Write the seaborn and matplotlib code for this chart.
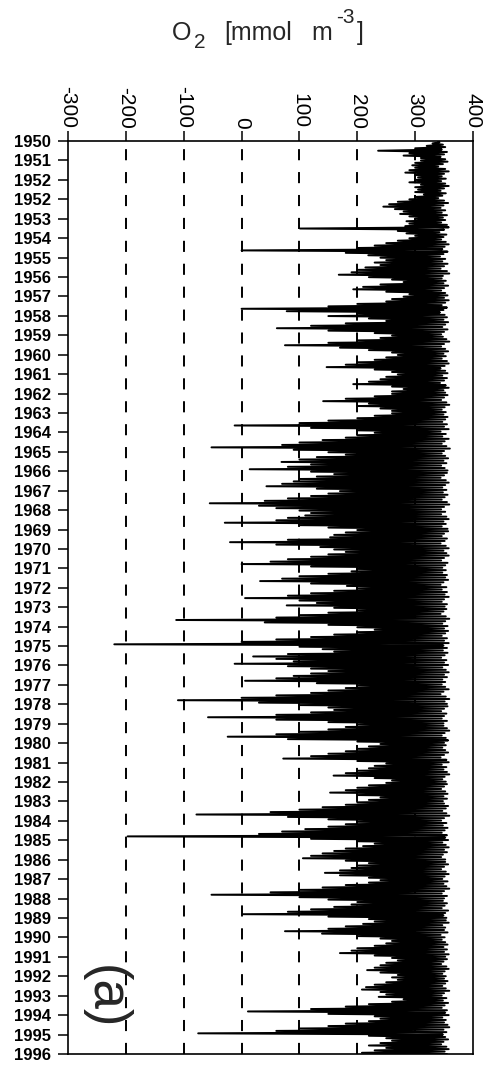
import numpy as np
import pandas as pd
import matplotlib
matplotlib.use("Agg")
import matplotlib.pyplot as plt
import seaborn as sns

# ---------------- data ----------------
year_labels = ['1950', '1951', '1952', '1952'] + [str(y) for y in range(1953, 1997)]
x_ticks = [-300, -200, -100, 0, 100, 200, 300, 400]
x_ticklabels = ['-300', '-200', '-100', '0', '100', '200', '300', '400']
grid_x = [-200, -100, 0, 100, 200, 300]

# lower excursions of O2 (8 per label interval)
o2_lows = [
    [340, 330, 320, 300, 236, 290, 280, 310],
    [310, 300, 295, 300, 290, 283, 300, 305],
    [300, 290, 310, 300, 305, 300, 315, 300],
    [290, 270, 255, 245, 265, 280, 274, 290],
    [300, 285, 290, 283, 101, 270, 285, 300],
    [290, 270, 250, 230, 200, 0, 180, 219],
    [240, 250, 230, 240, 214, 200, 190, 168],
    [220, 260, 280, 240, 210, 193, 250, 290],
    [280, 260, 250, 200, 150, 0, 78, 200],
    [150, 220, 250, 180, 120, 61, 150, 230],
    [260, 240, 200, 150, 75, 170, 220, 260],
    [270, 250, 230, 200, 180, 147, 230, 260],
    [270, 250, 240, 220, 193, 260, 280, 260],
    [260, 230, 180, 141, 220, 200, 240, 260],
    [260, 230, 200, 150, 100, -12, 120, 200],
    [230, 200, 180, 140, 100, 70, -52, 90],
    [150, 180, 130, 100, 69, 120, 80, 14],
    [120, 160, 130, 100, 90, 70, 43, 130],
    [170, 150, 120, 80, 40, -55, 30, 60],
    [100, 120, 110, 80, 60, -29, 100, 150],
    [200, 180, 160, 153, 80, -20, 60, 136],
    [160, 180, 150, 120, 80, 50, 0, 120],
    [200, 190, 150, 100, 70, 32, 120, 182],
    [200, 160, 120, 80, 6, 100, 130, 78],
    [160, 200, 150, 100, 60, -113, 40, 150],
    [200, 230, 200, 160, 120, 60, 0, -220],
    [100, 140, 160, 80, 20, 60, 90, -12],
    [80, 120, 150, 120, 90, 60, 6, 130],
    [200, 180, 150, 120, 60, 0, -110, 30],
    [100, 150, 160, 120, 60, -58, 60, 150],
    [200, 180, 150, 100, 60, -24, 80, 200],
    [240, 220, 200, 180, 150, 120, 72, 200],
    [250, 230, 220, 200, 180, 159, 230, 260],
    [250, 220, 200, 180, 153, 200, 240, 220],
    [200, 180, 140, 100, 50, -78, 80, 150],
    [200, 180, 150, 110, 70, 30, -197, 120],
    [200, 230, 210, 180, 160, 140, 120, 106],
    [180, 220, 200, 190, 170, 144, 170, 220],
    [240, 220, 180, 140, 100, 50, -52, 100],
    [150, 200, 190, 160, 120, 80, 2, 150],
    [220, 230, 210, 180, 150, 75, 139, 200],
    [240, 260, 250, 230, 200, 190, 170, 230],
    [260, 270, 250, 240, 230, 217, 240, 270],
    [260, 270, 250, 230, 215, 208, 240, 250],
    [237, 280, 260, 220, 180, 120, 11, 150],
    [230, 240, 220, 180, 150, 100, 60, -75],
    [220, 250, 260, 240, 220, 250, 230, 208],
]

# upper values of O2 (8 per label interval)
o2_highs = [
    [342, 348, 352, 346, 355, 350, 344, 352],
    [356, 348, 340, 352, 358, 350, 346, 353],
    [345, 352, 358, 350, 344, 353, 347, 340],
    [350, 357, 349, 344, 352, 346, 355, 348],
    [352, 345, 355, 358, 350, 342, 354, 349],
    [345, 353, 358, 351, 347, 356, 349, 343],
    [352, 347, 356, 350, 344, 355, 359, 348],
    [346, 353, 349, 357, 350, 345, 352, 356],
    [350, 358, 352, 346, 355, 349, 343, 351],
    [355, 349, 357, 352, 347, 356, 350, 345],
    [348, 354, 359, 350, 345, 352, 357, 349],
    [353, 346, 355, 358, 351, 344, 352, 356],
    [347, 355, 350, 343, 353, 358, 349, 352],
    [356, 350, 345, 354, 359, 351, 346, 353],
    [349, 356, 352, 347, 355, 350, 358, 344],
    [353, 347, 358, 351, 346, 354, 360, 350],
    [346, 352, 357, 349, 354, 345, 351, 356],
    [355, 350, 344, 353, 358, 352, 347, 354],
    [348, 356, 351, 346, 355, 359, 350, 345],
    [352, 345, 354, 358, 349, 353, 346, 356],
    [357, 350, 346, 355, 351, 344, 353, 358],
    [349, 354, 358, 350, 345, 356, 352, 347],
    [353, 347, 355, 352, 357, 349, 344, 354],
    [346, 355, 351, 358, 350, 346, 355, 351],
    [354, 349, 344, 353, 359, 352, 347, 356],
    [350, 357, 352, 346, 355, 350, 358, 349],
    [355, 348, 356, 351, 345, 354, 350, 357],
    [347, 353, 358, 350, 355, 347, 352, 346],
    [352, 358, 349, 344, 353, 359, 351, 355],
    [356, 350, 345, 354, 350, 346, 355, 349],
    [349, 355, 359, 351, 346, 353, 357, 350],
    [353, 347, 352, 357, 350, 344, 354, 358],
    [346, 354, 349, 355, 359, 351, 347, 353],
    [355, 350, 345, 352, 356, 349, 355, 348],
    [350, 357, 353, 347, 354, 359, 350, 345],
    [354, 348, 356, 351, 346, 355, 352, 357],
    [347, 353, 358, 350, 355, 348, 345, 352],
    [352, 357, 350, 345, 353, 358, 351, 347],
    [356, 349, 354, 359, 350, 346, 355, 350],
    [348, 355, 351, 346, 357, 352, 349, 354],
    [353, 358, 347, 352, 350, 356, 344, 351],
    [346, 352, 356, 349, 355, 350, 358, 352],
    [355, 349, 345, 354, 358, 351, 347, 353],
    [350, 356, 352, 347, 353, 359, 350, 346],
    [354, 348, 357, 351, 346, 355, 352, 358],
    [347, 353, 350, 356, 359, 349, 354, 348],
    [352, 357, 349, 345, 354, 358, 351, 355],
]

# ---------------- build the series ----------------
o2 = []
for lo_row, hi_row in zip(o2_lows, o2_highs):
    for lo, hi in zip(lo_row, hi_row):
        o2.append(lo)
        o2.append(hi)
o2 = np.array(o2, dtype=float)
time_idx = np.linspace(0, len(year_labels) - 1, len(o2))
df = pd.DataFrame({"O2": o2, "time": time_idx})

# ---------------- figure ----------------
sns.set_theme(style="white")
plt.rcParams['font.family'] = ['Liberation Sans', 'DejaVu Sans']
plt.rcParams['lines.scale_dashes'] = False

W, H = 488, 1070
fig = plt.figure(figsize=(W / 100, H / 100), dpi=100)
fig.patch.set_facecolor("white")
ax = fig.add_axes([68 / W, 1 - 1054 / H, (473 - 68) / W, (1054 - 141) / H])

for gx in grid_x:
    ax.axvline(gx, color="black", lw=1.4, dashes=(8, 8.5), zorder=1)

sns.lineplot(data=df, x="O2", y="time", orient="y", sort=False, estimator=None,
             color="black", lw=1.4, ax=ax, zorder=3)

ax.set_xlim(-300, 400)
ax.set_ylim(len(year_labels) - 1, 0)

ax.xaxis.tick_top()
ax.set_xticks(x_ticks)
ax.set_xticklabels(x_ticklabels, rotation=-90, fontsize=15)
ax.set_yticks(range(len(year_labels)))
ax.set_yticklabels(year_labels, fontsize=12, fontweight="bold")
ax.tick_params(axis="x", which="both", top=True, bottom=False, direction="out",
               length=7.5, width=1.1, pad=1.5, colors="black")
ax.tick_params(axis="y", which="both", left=True, direction="out",
               length=7.5, width=1.1, pad=5, colors="black")
ax.set_xlabel("")
ax.set_ylabel("")
for side in ["top", "bottom", "left", "right"]:
    ax.spines[side].set_color("black")
    ax.spines[side].set_linewidth(1.2)
    ax.spines[side].set_visible(True)

# title pieces: O 2 [mmol m -3 ]
fig.text(172 / W, 1 - 40 / H, "O", fontsize=18, ha="left", va="baseline")
fig.text(194 / W, 1 - 48 / H, "2", fontsize=15, ha="left", va="baseline")
fig.text(224 / W, 1 - 40 / H, "[mmol", fontsize=18, ha="left", va="baseline")
fig.text(311 / W, 1 - 40 / H, "m", fontsize=18, ha="left", va="baseline")
fig.text(336 / W, 1 - 23 / H, "-3", fontsize=15, ha="left", va="baseline")
fig.text(357 / W, 1 - 40 / H, "]", fontsize=18, ha="left", va="baseline")

# panel label
fig.text(105 / W, 1 - 997 / H, "(a)", fontsize=38, rotation=-90,
         ha="center", va="center")

fig.savefig("out.png", dpi=100, facecolor="white")
